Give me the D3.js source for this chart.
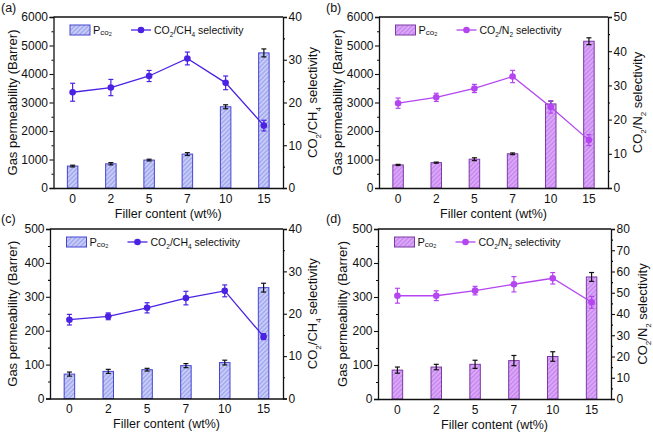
<!DOCTYPE html>
<html><head><meta charset="utf-8">
<script src="https://cdn.jsdelivr.net/npm/d3@7"></script>
<style>body{margin:0;background:#fff}svg{display:block}text{font-family:"Liberation Sans",Arial,sans-serif;fill:#111}</style>
</head><body>
<svg id="c" width="653" height="434"></svg>
<script>
const categories = ["0","2","5","7","10","15"];
// (a) CO2/CH4, higher range
const permA = [770, 850, 980, 1190, 2850, 4740];
const permAErr = [30, 40, 30, 50, 70, 140];
const selA = [22.4, 23.5, 26.2, 30.3, 24.6, 14.6];
const selAErr = [2.1, 1.9, 1.3, 1.5, 1.6, 1.25];
// (b) CO2/N2, higher range
const permB = [810, 890, 1010, 1200, 2950, 5150];
const permBErr = [20, 20, 50, 30, 100, 120];
const selB = [24.8, 26.5, 29.1, 32.6, 23.7, 14.0];
const selBErr = [1.5, 1.2, 1.2, 1.8, 1.8, 1.6];
// (c) CO2/CH4, lower range
const permC = [72, 80, 85, 97, 106, 327];
const permCErr = [6, 6, 4, 6, 7, 13];
const selC = [18.6, 19.4, 21.4, 23.7, 25.4, 14.6];
const selCErr = [1.25, 0.8, 1.2, 1.6, 1.4, 0.7];
// (d) CO2/N2, lower range
const permD = [85, 94, 102, 113, 125, 359];
const permDErr = [9, 8, 12, 15, 14, 13];
const selD = [48.6, 48.6, 51.0, 54.0, 56.8, 45.5];
const selDErr = [3.5, 2.3, 2.0, 3.6, 2.7, 2.8];

const leftTicksHigh = [0,1000,2000,3000,4000,5000,6000];
const leftTicksLow = [0,100,200,300,400,500];
const rightTicksA = [0,10,20,30,40];
const rightTicksB = [0,10,20,30,40,50];
const rightTicksC = [0,10,20,30,40];
const rightTicksD = [0,10,20,30,40,50,60,70,80];

const xTitle = "Filler content (wt%)";
const yTitle = "Gas permeability (Barrer)";
const selCH4 = [["CO",0],["2",1],["/CH",0],["4",1],[" selectivity",0]];
const selN2 = [["CO",0],["2",1],["/N",0],["2",1],[" selectivity",0]];

const blue = {fill:"#c9cdf8", stripe:"#9ea6ee", border:"#4646d2", line:"#4b22e4", id:"hb"};
const mag = {fill:"#c98bf2", stripe:"#e0b0f7", border:"#7d3aa6", line:"#b445f0", id:"hm"};

const svg = d3.select("#c");
const defs = svg.append("defs");
[blue, mag].forEach(c => {
  const p = defs.append("pattern").attr("id", c.id).attr("patternUnits","userSpaceOnUse")
    .attr("width",3.2).attr("height",3.2).attr("patternTransform","rotate(45)");
  p.append("rect").attr("width",3.2).attr("height",3.2).attr("fill",c.fill);
  p.append("line").attr("x1",0.8).attr("y1",0).attr("x2",0.8).attr("y2",3.2)
    .attr("stroke",c.stripe).attr("stroke-width",1.3);
});

function richText(sel, parts, size) {
  let shift = 0;
  parts.forEach(([t, sub]) => {
    const want = sub ? size*0.3 : 0;
    sel.append("tspan").attr("font-size", sub ? size*0.62 : size)
      .attr("dy", want - shift).text(t);
    shift = want;
  });
}

function panel(o) {
  const g = svg.append("g");
  const x = d3.scaleBand().domain(categories).range([o.l, o.r]).padding(0);
  const yL = d3.scaleLinear().domain([0, o.lmax]).range([o.b, o.t]);
  const yR = d3.scaleLinear().domain([0, o.rmax]).range([o.b, o.t]);
  const c = o.col;
  const bw = 10.5;
  const cxOf = i => x(categories[i]) + x.bandwidth()/2;

  // bars
  g.selectAll(".bar").data(o.perm).join("rect")
    .attr("x", (d,i) => cxOf(i) - bw/2)
    .attr("y", d => yL(d)).attr("width", bw).attr("height", d => o.b - yL(d))
    .attr("fill", `url(#${c.id})`).attr("stroke", c.border).attr("stroke-width", 1);
  function errBars(parent, vals, errs, scale) {
    vals.forEach((v,i) => {
      const cx = cxOf(i), e = errs[i];
      parent.append("line").attr("x1",cx).attr("x2",cx).attr("y1",scale(v+e)).attr("y2",scale(v-e));
      parent.append("line").attr("x1",cx-2.5).attr("x2",cx+2.5).attr("y1",scale(v+e)).attr("y2",scale(v+e));
      parent.append("line").attr("x1",cx-2.5).attr("x2",cx+2.5).attr("y1",scale(v-e)).attr("y2",scale(v-e));
    });
  }
  errBars(g.append("g").attr("stroke","#111").attr("stroke-width",1.2), o.perm, o.permErr, yL);

  // selectivity line
  const line = d3.line().x((d,i) => cxOf(i)).y(d => yR(d));
  g.append("path").datum(o.sel).attr("d", line).attr("fill","none")
    .attr("stroke", c.line).attr("stroke-width", 1.3);
  errBars(g.append("g").attr("stroke", c.line).attr("stroke-width",1.2), o.sel, o.selErr, yR);
  g.selectAll(".pt").data(o.sel).join("circle")
    .attr("cx", (d,i) => cxOf(i)).attr("cy", d => yR(d))
    .attr("r", 3.3).attr("fill", c.line);

  // axes
  const fs = 12;
  const fmt = d3.format("d");
  const aL = g.append("g").attr("transform", `translate(${o.l},0)`)
    .call(d3.axisLeft(yL).tickValues(o.lt).tickFormat(fmt).tickSize(4).tickPadding(1.5));
  const lstep = o.lt[1]-o.lt[0];
  g.append("g").attr("transform", `translate(${o.l},0)`)
    .call(d3.axisLeft(yL).tickValues(o.lt.slice(0,-1).map(t=>t+lstep/2)).tickSize(2).tickFormat(""))
    .call(s => s.select(".domain").remove());
  const aR = g.append("g").attr("transform", `translate(${o.r},0)`)
    .call(d3.axisRight(yR).tickValues(o.rt).tickFormat(fmt).tickSize(4).tickPadding(1.5));
  const rstep = o.rt[1]-o.rt[0];
  g.append("g").attr("transform", `translate(${o.r},0)`)
    .call(d3.axisRight(yR).tickValues(o.rt.slice(0,-1).map(t=>t+rstep/2)).tickSize(2).tickFormat(""))
    .call(s => s.select(".domain").remove());
  const aB = g.append("g").attr("transform", `translate(0,${o.b})`)
    .call(d3.axisBottom(x).tickSize(0).tickPadding(6));
  g.append("line").attr("x1",o.l).attr("x2",o.r).attr("y1",o.t).attr("y2",o.t)
    .attr("stroke","#111").attr("stroke-width",1.3);
  [aL,aR,aB].forEach(a => {
    a.selectAll("text").attr("font-size", fs).attr("font-family","Liberation Sans, Arial, sans-serif").attr("fill","#111");
    a.select(".domain").attr("stroke","#111").attr("stroke-width",1.3);
  });
  g.selectAll(".tick line").attr("stroke","#111").attr("stroke-width",1.1);

  // titles
  g.append("text").attr("x", (o.l+o.r)/2).attr("y", o.b+29.5).attr("text-anchor","middle")
    .attr("font-size",12.5).text(xTitle);
  g.append("text").attr("transform", `translate(${o.ylx},${(o.t+o.b)/2}) rotate(-90)`)
    .attr("text-anchor","middle").attr("dy","0.35em").attr("font-size",13).text(yTitle);
  const rt = g.append("text").attr("transform", `translate(${o.yrx},${(o.t+o.b)/2}) rotate(-90)`)
    .attr("text-anchor","middle").attr("y", 4);
  richText(rt, o.selLabel, 13);
  g.append("text").attr("x", o.px).attr("y", o.py).attr("font-size",12.5).text(o.tag);

  // legend
  const lx = o.l + 16.5, ly = o.t + 8;
  g.append("rect").attr("x",lx).attr("y",ly).attr("width",20).attr("height",10)
    .attr("fill",`url(#${c.id})`).attr("stroke",c.border).attr("stroke-width",1);
  const pt = g.append("text").attr("x", lx+23).attr("y", ly+9);
  pt.append("tspan").attr("font-size",11).text("P");
  pt.append("tspan").attr("font-size",8).attr("dy",1).text("co");
  pt.append("tspan").attr("font-size",5.5).attr("dy",1).text("2");
  const mx = lx + 71;
  g.append("line").attr("x1",mx-10).attr("x2",mx+10).attr("y1",ly+5).attr("y2",ly+5)
    .attr("stroke",c.line).attr("stroke-width",1.3);
  g.append("circle").attr("cx",mx).attr("cy",ly+5).attr("r",3.3).attr("fill",c.line);
  const st = g.append("text").attr("x", mx+13).attr("y", ly+9);
  richText(st, o.selLabel, 10.5);
}

panel({l:53.5, r:283, t:17, b:188, lmax:6000, rmax:40, lt:leftTicksHigh, rt:rightTicksA,
  perm:permA, permErr:permAErr, sel:selA, selErr:selAErr, col:blue, selLabel:selCH4,
  ylx:12.5, yrx:313, tag:"(a)", px:1, py:12});
panel({l:379, r:608, t:17, b:188, lmax:6000, rmax:50, lt:leftTicksHigh, rt:rightTicksB,
  perm:permB, permErr:permBErr, sel:selB, selErr:selBErr, col:mag, selLabel:selN2,
  ylx:337.5, yrx:638, tag:"(b)", px:326, py:12});
panel({l:50, r:283, t:229, b:398.5, lmax:500, rmax:40, lt:leftTicksLow, rt:rightTicksC,
  perm:permC, permErr:permCErr, sel:selC, selErr:selCErr, col:blue, selLabel:selCH4,
  ylx:12.5, yrx:313, tag:"(c)", px:1, py:223});
panel({l:378, r:611, t:229, b:399, lmax:500, rmax:80, lt:leftTicksLow, rt:rightTicksD,
  perm:permD, permErr:permDErr, sel:selD, selErr:selDErr, col:mag, selLabel:selN2,
  ylx:342, yrx:643, tag:"(d)", px:326, py:223});
</script>
</body></html>
